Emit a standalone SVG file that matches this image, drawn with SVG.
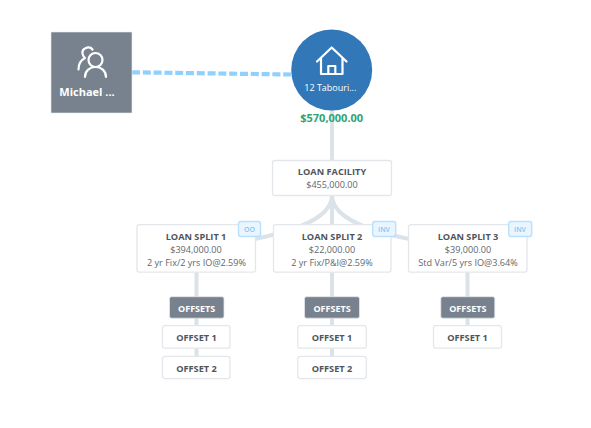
<svg xmlns="http://www.w3.org/2000/svg" width="591" height="428" viewBox="0 0 591 428">
<style>
text{font-family:"Open Sans","Liberation Sans",sans-serif;text-anchor:middle}
.c{fill:none;stroke:#dbe2e8;stroke-width:4}
.card{fill:#fff;stroke:#e3e7eb;stroke-width:1.300}
.t{font-size:9.200px;font-weight:700;fill:#50555c}
.s{font-size:9.100px;fill:#62676e}
.badge{fill:#eaf6ff;stroke:#b9e0fd;stroke-width:1.400}
.bt{font-size:7px;font-weight:600;fill:#86c4f4}
.off{fill:#78828f;stroke:#e3e7eb;stroke-width:.8}
.ot{font-size:9px;font-weight:700;fill:#fff}
.ic{fill:none;stroke:#fff;stroke-width:2.200;stroke-linecap:round;stroke-linejoin:round}
</style>
<rect width="591" height="428" fill="#fff"/>
<g id="connectors">
<path d="M132 72.300 L292 74.500" fill="none" stroke="#8fd0fd" stroke-width="4.200" stroke-dasharray="8 2.800"/>
<path class="c" d="M332 110V161"/>
<path class="c" d="M332 195V225"/>
<path class="c" d="M332 195C332 217 300 236 196 248"/>
<path class="c" d="M332 195C332 217 364 236 468 248"/>
<path class="c" d="M196.500 272V297M196.500 318V326M196.500 348V357"/>
<path class="c" d="M332 272V297M332 318V326M332 348V357"/>
<path class="c" d="M467.500 272V297M467.500 318V326"/>
</g>
<g id="person">
<rect x="51" y="32" width="81" height="81" fill="#78828f" stroke="#e8ebee" stroke-width=".6"/>
<path class="ic" d="M78.500 69.500C78.500 63 81 60 85 58C81.500 55 81.500 50 85 48.500C88 47 91 47.500 92.500 49.500"/>
<circle class="ic" cx="95.500" cy="60" r="7"/>
<path class="ic" d="M85 77C85 70.500 90 67 95.500 67C101 67 106 70.500 106 77"/>
<text x="87" y="96" style="font-size:11px;font-weight:700;fill:#fff">Michael ...</text>
</g>
<g id="property">
<circle cx="331.700" cy="70" r="40.500" fill="#3278b8"/>
<path class="ic" d="M317 61.500L331.700 47.500L346.500 61.500M321 58V74H342.500V58M328.300 74V66H335.300V74"/>
<text x="330.300" y="91" style="font-size:9px;fill:#fff">12 Tabouri...</text>
<text x="331.700" y="122" style="font-size:11px;font-weight:700;fill:#2fa374">$570,000.00</text>
</g>
<g id="facility">
<rect class="card" x="272.500" y="160.500" width="119" height="35" rx="2.500"/>
<text class="t" x="332" y="174.500">LOAN FACILITY</text>
<text class="s" x="332" y="187.700">$455,000.00</text>
</g>
<g id="split1">
<rect class="card" x="137" y="224.700" width="118.500" height="47.500" rx="2.500"/>
<text class="t" x="196" y="240">LOAN SPLIT 1</text>
<text class="s" x="196" y="253">$394,000.00</text>
<text class="s" x="196.500" y="266">2 yr Fix/2 yrs IO@2.59%</text>
<rect class="badge" x="238.500" y="221.500" width="22" height="15" rx="2.500"/>
<text class="bt" x="249.500" y="231.500">OO</text>
</g>
<g id="split2">
<rect class="card" x="273.500" y="224.700" width="117.500" height="47.500" rx="2.500"/>
<text class="t" x="332" y="240">LOAN SPLIT 2</text>
<text class="s" x="332" y="253">$22,000.00</text>
<text class="s" x="332" y="266">2 yr Fix/P&amp;I@2.59%</text>
<rect class="badge" x="372.700" y="221.500" width="23" height="15" rx="2.500"/>
<text class="bt" x="384" y="231.500">INV</text>
</g>
<g id="split3">
<rect class="card" x="408.500" y="224.700" width="118.500" height="47.500" rx="2.500"/>
<text class="t" x="468" y="240">LOAN SPLIT 3</text>
<text class="s" x="468" y="253">$39,000.00</text>
<text class="s" x="468" y="266">Std Var/5 yrs IO@3.64%</text>
<rect class="badge" x="508.700" y="221.500" width="23" height="15" rx="2.500"/>
<text class="bt" x="520" y="231.500">INV</text>
</g>
<g id="offsets1">
<rect class="off" x="169.500" y="296.700" width="54.500" height="21.500" rx="2"/>
<text class="ot" x="196.700" y="312">OFFSETS</text>
</g>
<g id="offset1-1">
<rect class="card" x="162.500" y="325.700" width="67.500" height="22.500" rx="2.500"/>
<text class="t" x="196.500" y="341">OFFSET 1</text>
</g>
<g id="offset1-2">
<rect class="card" x="162.500" y="356.300" width="67.500" height="22.300" rx="2.500"/>
<text class="t" x="196.500" y="371.500">OFFSET 2</text>
</g>
<g id="offsets2">
<rect class="off" x="304.500" y="296.700" width="55" height="21.500" rx="2"/>
<text class="ot" x="332" y="312">OFFSETS</text>
</g>
<g id="offset2-1">
<rect class="card" x="297.800" y="325.700" width="68.500" height="22.500" rx="2.500"/>
<text class="t" x="332" y="341">OFFSET 1</text>
</g>
<g id="offset2-2">
<rect class="card" x="297.800" y="356.300" width="68.500" height="22.300" rx="2.500"/>
<text class="t" x="332" y="371.500">OFFSET 2</text>
</g>
<g id="offsets3">
<rect class="off" x="440.800" y="296.700" width="54" height="21.500" rx="2"/>
<text class="ot" x="467.800" y="312">OFFSETS</text>
</g>
<g id="offset3-1">
<rect class="card" x="433.500" y="325.700" width="68" height="22.500" rx="2.500"/>
<text class="t" x="467.500" y="341">OFFSET 1</text>
</g>
</svg>
